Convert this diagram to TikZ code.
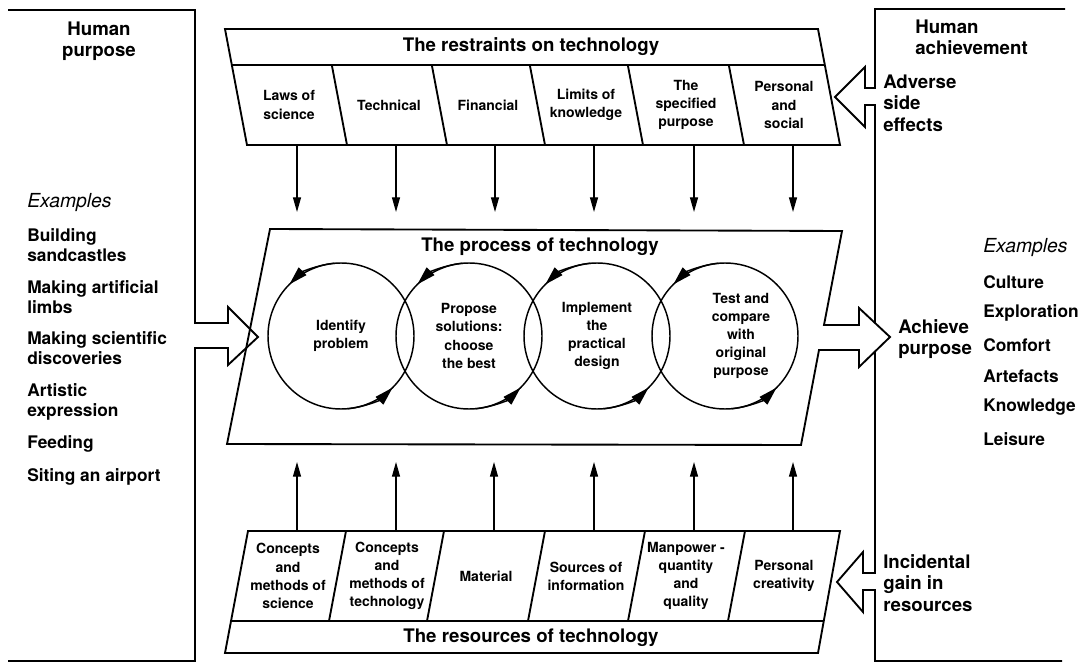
\documentclass[tikz,border=0pt]{standalone}
\usepackage{fontspec}
\setmainfont{TeX Gyre Heros}
\usetikzlibrary{arrows.meta}

\tikzset{
  boxline/.style={line width=1.4pt, line join=miter},
  headtext/.style={font=\fontsize{14}{18}\selectfont\bfseries, inner sep=0pt},
  cell/.style={font=\fontsize{10.5}{13.6}\selectfont\bfseries, align=center, inner sep=0pt},
  sidetext/.style={font=\fontsize{14}{16}\selectfont\bfseries, align=left, anchor=west, inner sep=0pt},
  exitem/.style={font=\fontsize{13}{15}\selectfont\bfseries, align=left, anchor=west, inner sep=0pt},
  extitle/.style={font=\fontsize{14.5}{15}\selectfont\itshape, anchor=west, inner sep=0pt},
  feed/.style={line width=1pt, -{Triangle[length=11pt,width=6pt]}},
  stage/.style={circle, draw, line width=1.1pt, minimum size=109.5pt, inner sep=0pt},
  turn/.style={line width=1.1pt, -{Triangle[length=14pt,width=8pt]}},
}

\begin{document}
\begin{tikzpicture}[x=0.75pt,y=0.75pt,yscale=-1,xscale=1]
    \useasboundingbox (0,0) rectangle (1086,663);

    % restraints on technology
    \draw[boxline] (225,29) -- (818,29) -- (840,145) -- (247,145) -- cycle;
    \draw[boxline] (231.8,65) -- (824.8,65);
    \draw[boxline] (331.8,65) -- (347,145);
    \draw[boxline] (431.8,65) -- (447,145);
    \draw[boxline] (529.8,65) -- (545,145);
    \draw[boxline] (627.8,65) -- (643,145);
    \draw[boxline] (728.8,65) -- (744,145);
    \node[headtext] (restraints) at (531,47) {The restraints on technology};
    \node[cell] (r1) at (289,105) {Laws of\\science};
    \node[cell] (r2) at (389,105) {Technical};
    \node[cell] (r3) at (488,105) {Financial};
    \node[cell] (r4) at (586,105) {Limits of\\knowledge};
    \node[cell] (r5) at (686,105) {The\\specified\\purpose};
    \node[cell] (r6) at (784,105) {Personal\\and\\social};

    % resources of technology
    \draw[boxline] (248,531) -- (840,531) -- (818,653) -- (225,653) -- cycle;
    \draw[boxline] (231,621) -- (823,621);
    \draw[boxline] (346,531) -- (329,621);
    \draw[boxline] (444,531) -- (427,621);
    \draw[boxline] (545,531) -- (528,621);
    \draw[boxline] (645,531) -- (628,621);
    \draw[boxline] (745,531) -- (728,621);
    \node[headtext] (resources) at (531,638) {The resources of technology};
    \node[cell] (s1) at (288,576) {Concepts\\and\\methods of\\science};
    \node[cell] (s2) at (387,576) {Concepts\\and\\methods of\\technology};
    \node[cell] (s3) at (486,576) {Material};
    \node[cell] (s4) at (586,576) {Sources of\\information};
    \node[cell] (s5) at (686,576) {Manpower -\\quantity\\and\\quality};
    \node[cell] (s6) at (784,576) {Personal\\creativity};

    % human achievement bracket
    \draw[boxline] (1065,9) -- (875,9) -- (875,88) -- (865,88) -- (865,67) -- (835,97) -- (865,127) -- (865,105) -- (875,105) -- (875,573) -- (863,573) -- (863,552) -- (837,582) -- (863,612) -- (863,590) -- (875,590) -- (875,661) -- (1062,661);

    % process of technology
    \draw[boxline, fill=white] (270,229) -- (842,231) -- (824,325) -- (859,325) -- (859,308) -- (890,337) -- (859,367) -- (859,350) -- (819,350) -- (801,445) -- (227,444) -- cycle;
    \node[headtext] (process) at (540,247) {The process of technology};

    % human purpose bracket
    \draw[boxline] (8,10) -- (195,10) -- (195,323) -- (228,323) -- (228,307) -- (258,337) -- (228,365) -- (228,348) -- (195,348) -- (195,661) -- (8,661);

    % stages
    \node[stage] (c1) at (341,336) {};
    \node[stage] (c2) at (469,336) {};
    \node[stage] (c3) at (597,336) {};
    \node[stage] (c4) at (725,336) {};
    \node[cell] (t1) at (c1) {Identify\\problem};
    \node[cell] (t2) at (c2) {Propose\\solutions:\\choose\\the best};
    \node[cell] (t3) at (c3) {Implement\\the\\practical\\design};
    \node[cell, xshift=12] (t4) at (c4) {Test and\\compare\\with\\original\\purpose};
    \draw[turn] (c1.center) ++(-95:73) arc[start angle=-95, end angle=-135, radius=73];
    \draw[turn] (c1.center) ++(85:73) arc[start angle=85, end angle=45, radius=73];
    \draw[turn] (c2.center) ++(-95:73) arc[start angle=-95, end angle=-135, radius=73];
    \draw[turn] (c2.center) ++(85:73) arc[start angle=85, end angle=45, radius=73];
    \draw[turn] (c3.center) ++(-95:73) arc[start angle=-95, end angle=-135, radius=73];
    \draw[turn] (c3.center) ++(85:73) arc[start angle=85, end angle=45, radius=73];
    \draw[turn] (c4.center) ++(-95:73) arc[start angle=-95, end angle=-135, radius=73];
    \draw[turn] (c4.center) ++(85:73) arc[start angle=85, end angle=45, radius=73];

    % restraints feed down
    \coordinate (r1b) at (297,145);  \coordinate (p1t) at (297,212);
    \coordinate (r2b) at (396,145);  \coordinate (p2t) at (396,212);
    \coordinate (r3b) at (495,145);  \coordinate (p3t) at (495,212);
    \coordinate (r4b) at (594,145);  \coordinate (p4t) at (594,212);
    \coordinate (r5b) at (694,145);  \coordinate (p5t) at (694,212);
    \coordinate (r6b) at (793,145);  \coordinate (p6t) at (793,212);
    \draw[feed] (r1b) -- (p1t);
    \draw[feed] (r2b) -- (p2t);
    \draw[feed] (r3b) -- (p3t);
    \draw[feed] (r4b) -- (p4t);
    \draw[feed] (r5b) -- (p5t);
    \draw[feed] (r6b) -- (p6t);

    % resources feed up
    \coordinate (s1t) at (297,531);  \coordinate (p1b) at (297,462);
    \coordinate (s2t) at (396,531);  \coordinate (p2b) at (396,462);
    \coordinate (s3t) at (494,531);  \coordinate (p3b) at (494,462);
    \coordinate (s4t) at (594,531);  \coordinate (p4b) at (594,462);
    \coordinate (s5t) at (694,531);  \coordinate (p5b) at (694,462);
    \coordinate (s6t) at (793,531);  \coordinate (p6b) at (793,462);
    \draw[feed] (s1t) -- (p1b);
    \draw[feed] (s2t) -- (p2b);
    \draw[feed] (s3t) -- (p3b);
    \draw[feed] (s4t) -- (p4b);
    \draw[feed] (s5t) -- (p5b);
    \draw[feed] (s6t) -- (p6b);

    % left side texts
    \node[sidetext, align=center, anchor=center] (purpose) at (99,41) {Human\\purpose};
    \node[extitle] (exleft) at (27,203) {Examples};
    \node[exitem] (ex1) at (27,245) {Building\\sandcastles};
    \node[exitem] (ex2) at (27,297) {Making artificial\\limbs};
    \node[exitem] (ex3) at (27,348) {Making scientific\\discoveries};
    \node[exitem] (ex4) at (27,402) {Artistic\\expression};
    \node[exitem] (ex5) at (27,444) {Feeding};
    \node[exitem] (ex6) at (27,477) {Siting an airport};

    % right side texts
    \node[sidetext] (achievement) at (915,37) {Human\\achievement};
    \node[sidetext] (adverse) at (883,103) {Adverse\\side\\effects};
    \node[sidetext] (incidental) at (883,583) {Incidental\\gain in\\resources};
    \node[sidetext] (achieve) at (898,339) {Achieve\\purpose};
    \node[extitle] (exright) at (983,248) {Examples};
    \node[exitem] (ach1) at (983,282) {Culture};
    \node[exitem] (ach2) at (983,313) {Exploration};
    \node[exitem] (ach3) at (983,345) {Comfort};
    \node[exitem] (ach4) at (983,376) {Artefacts};
    \node[exitem] (ach5) at (983,407) {Knowledge};
    \node[exitem] (ach6) at (983,439) {Leisure};

\end{tikzpicture}
\end{document}
